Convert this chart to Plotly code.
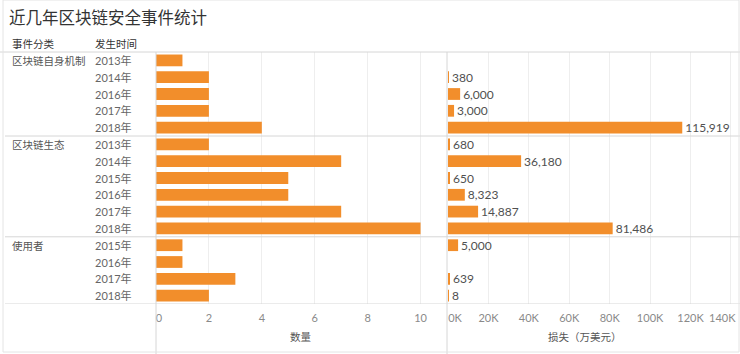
import plotly.graph_objects as go

# ---- data ----
groups = ["区块链自身机制", "区块链生态", "使用者"]
group_years = [
    ["2013年", "2014年", "2016年", "2017年", "2018年"],
    ["2013年", "2014年", "2015年", "2016年", "2017年", "2018年"],
    ["2015年", "2016年", "2017年", "2018年"],
]
counts = [1, 2, 2, 2, 4,
          2, 7, 5, 5, 7, 10,
          1, 1, 3, 2]
losses = [None, 380, 6000, 3000, 115919,
          680, 36180, 650, 8323, 14887, 81486,
          5000, None, 639, 8]
count_ticks = [0, 2, 4, 6, 8, 10]
count_tick_text = ["\u00a0\u00a00", "2", "4", "6", "8", "10"]
loss_ticks = [0, 20000, 40000, 60000, 80000, 100000, 120000, 140000]
loss_tick_text = ["\u00a0\u00a0\u00a0\u00a0\u00a00K", "20K", "40K", "60K", "80K", "100K", "120K", "140K"]

title = "近几年区块链安全事件统计"
header_cat = "事件分类"
header_year = "发生时间"
count_title = "数量"
loss_title = "损失（万美元）"

# ---- layout helpers ----
W, H = 740, 354
ORANGE = "#F28E2B"
FONT = "Lato, Noto Sans CJK SC, sans-serif"
CJK = "Noto Sans CJK SC, sans-serif"
TICKFONT = dict(family=FONT, size=11, color="#8a8a8a")

def px_x(x):
    return x / W

def px_y(y):
    return 1 - y / H

rows = [y for ys in group_years for y in ys]
idx = list(range(len(rows)))
n = len(rows)

top_px, bot_px = 52, 304
ydom = [px_y(bot_px), px_y(top_px)]
x1dom = [px_x(156), px_x(447)]
x2dom = [px_x(448), px_x(738)]

fig = go.Figure()
fig.add_trace(go.Bar(
    x=counts, y=idx, orientation="h", marker_color=ORANGE, width=0.7,
    marker_line_width=0,
    xaxis="x", yaxis="y", hoverinfo="x", showlegend=False,
))
loss_text = ["" if v is None else f"{v:,}" for v in losses]
fig.add_trace(go.Bar(
    x=losses, y=idx, orientation="h", marker_color=ORANGE, width=0.7,
    marker_line_width=0,
    xaxis="x2", yaxis="y", text=loss_text, textposition="outside",
    constraintext="none",
    textfont=dict(family=FONT, size=12, color="#505050"),
    cliponaxis=False, hoverinfo="x", showlegend=False,
))

axis_common = dict(
    showgrid=True, gridcolor="#eeeeee", gridwidth=1, zeroline=False,
    showline=False, ticks="outside", ticklen=4, tickcolor="rgba(0,0,0,0)",
    tickfont=TICKFONT, fixedrange=True,
    automargin=False, ticklabeloverflow="allow",
)
# the last loss tick label is drawn as an annotation so it can sit inside the edge
loss_axis_text = loss_tick_text[:-1] + [""]
fig.update_layout(
    template="none",
    width=W, height=H, margin=dict(l=0, r=0, t=0, b=0, pad=0, autoexpand=False),
    paper_bgcolor="white", plot_bgcolor="white",
    bargap=0.3,
    xaxis=dict(domain=x1dom, range=[0, 11.0], tickvals=count_ticks,
               ticktext=count_tick_text, anchor="y", **axis_common),
    xaxis2=dict(domain=x2dom, range=[0, 143500], tickvals=loss_ticks,
                ticktext=loss_axis_text, anchor="y", **axis_common),
    yaxis=dict(domain=ydom, range=[n - 0.5, -0.5], showticklabels=False,
               showgrid=False, zeroline=False, fixedrange=True, automargin=False),
)

annotations = []
# title
annotations.append(dict(text=title, x=px_x(7), y=px_y(17), xref="paper", yref="paper",
                        xanchor="left", yanchor="middle", showarrow=False,
                        font=dict(family=CJK, size=16.5, color="#333333")))
# headers
for txt, xp in [(header_cat, 10), (header_year, 93)]:
    annotations.append(dict(text=txt, x=px_x(xp), y=px_y(44), xref="paper", yref="paper",
                            xanchor="left", yanchor="middle", showarrow=False,
                            font=dict(family=CJK, size=10.5, color="#333333")))
# group and year labels
i = 0
sep_rows = []
for g, ys in zip(groups, group_years):
    annotations.append(dict(text=g, x=px_x(10), y=i, xref="paper", yref="y",
                            xanchor="left", yanchor="middle", showarrow=False,
                            font=dict(family=CJK, size=10.5, color="#555555")))
    for yl in ys:
        annotations.append(dict(text=yl, x=px_x(93), y=i, xref="paper", yref="y",
                                xanchor="left", yanchor="middle", showarrow=False,
                                font=dict(family=FONT, size=11, color="#666666")))
        i += 1
    sep_rows.append(i - 0.5)
# last loss tick label
annotations.append(dict(text=loss_tick_text[-1], x=loss_ticks[-1], xref="x2",
                        y=px_y(317), yref="paper", xanchor="right", yanchor="middle",
                        xshift=7, showarrow=False, font=TICKFONT))
# axis titles
for txt, xp in [(count_title, 301), (loss_title, 585)]:
    annotations.append(dict(text=txt, x=px_x(xp), y=px_y(336), xref="paper", yref="paper",
                            xanchor="center", yanchor="middle", showarrow=False,
                            font=dict(family=CJK, size=10.5, color="#555555")))
fig.update_layout(annotations=annotations)

shapes = []
LINE = "#d6d6d6"
# header line
shapes.append(dict(type="line", xref="paper", yref="paper", x0=0, x1=1,
                   y0=px_y(top_px), y1=px_y(top_px), line=dict(color=LINE, width=1)))
# group separators
for s in sep_rows:
    shapes.append(dict(type="line", xref="paper", yref="y", x0=px_x(5), x1=1,
                       y0=s, y1=s, line=dict(color=LINE, width=1)))
# vertical panel lines
for xp in [156, 447]:
    shapes.append(dict(type="line", xref="paper", yref="paper", x0=px_x(xp), x1=px_x(xp),
                       y0=0, y1=px_y(top_px), line=dict(color=LINE, width=1)))
# outer frame
shapes.append(dict(type="rect", xref="paper", yref="paper", x0=px_x(3), x1=px_x(739),
                   y0=px_y(352), y1=1, line=dict(color="#e4e4e4", width=1)))
fig.update_layout(shapes=shapes)

fig.write_html("out.html")
